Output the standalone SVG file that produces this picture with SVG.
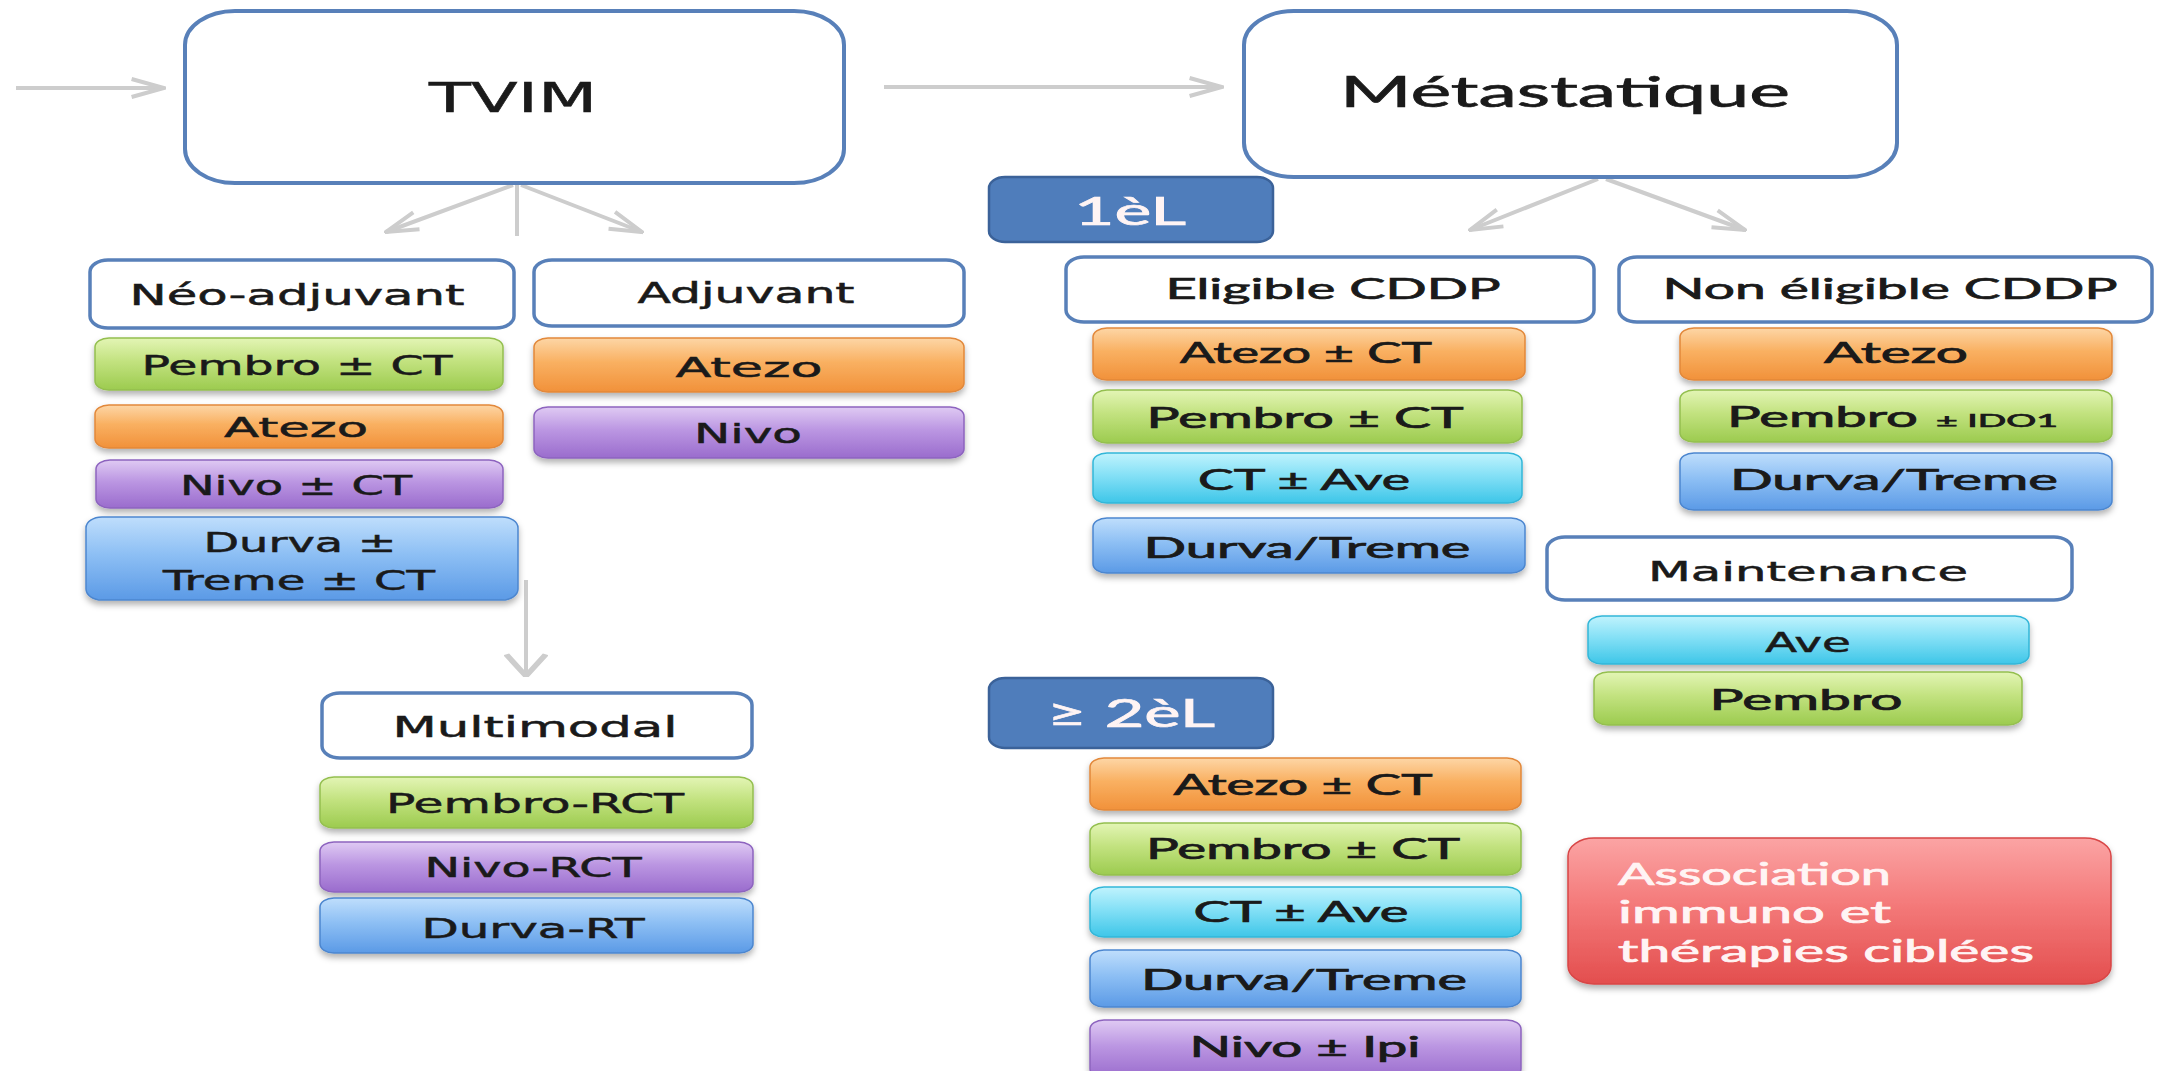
<svg xmlns="http://www.w3.org/2000/svg" width="2179" height="1071" viewBox="0 0 2179 1071">
<style>
.hdr{fill:#ffffff;stroke:#5880b9;stroke-width:3.5}
.big{fill:#ffffff;stroke:#5880b9;stroke-width:4}
.lbl{fill:#4f7dbb;stroke:#3b6299;stroke-width:2.5}
.box{stroke-width:1.5;filter:url(#sh)}
.green{fill:url(#gGreen);stroke:#94bf4f}
.orange{fill:url(#gOrange);stroke:#e2883a}
.purple{fill:url(#gPurple);stroke:#8d64bf}
.blue{fill:url(#gBlue);stroke:#4c86cf}
.cyan{fill:url(#gCyan);stroke:#33b6d8}
.red{fill:url(#gRed);stroke:#d84646}
.v{font-family:"DejaVu Sans",Verdana,sans-serif;fill:#1a1a1a;stroke:#1a1a1a;stroke-width:0.5;text-anchor:middle}
.c{font-family:Lato,"Liberation Sans",sans-serif;fill:#1a1a1a;stroke:#1a1a1a;stroke-width:0.7;text-anchor:middle}
.w{fill:#fff4f4;stroke:#fff4f4}
.conn{fill:none;stroke:#cdcdcd;stroke-width:4}
</style>
<defs>
<filter id="sh" x="-10%" y="-20%" width="120%" height="160%">
<feDropShadow dx="0" dy="4" stdDeviation="3" flood-color="#000" flood-opacity="0.3"/>
</filter>
<linearGradient id="gGreen" x1="0" y1="0" x2="0" y2="1"><stop offset="0" stop-color="#e3f5b5"/><stop offset="0.45" stop-color="#c2e27f"/><stop offset="1" stop-color="#9ccb4f"/></linearGradient>
<linearGradient id="gOrange" x1="0" y1="0" x2="0" y2="1"><stop offset="0" stop-color="#fdd6a6"/><stop offset="0.45" stop-color="#f9b061"/><stop offset="1" stop-color="#f1913a"/></linearGradient>
<linearGradient id="gPurple" x1="0" y1="0" x2="0" y2="1"><stop offset="0" stop-color="#dfcaf3"/><stop offset="0.45" stop-color="#bb96e2"/><stop offset="1" stop-color="#9a6ccd"/></linearGradient>
<linearGradient id="gBlue" x1="0" y1="0" x2="0" y2="1"><stop offset="0" stop-color="#bfdefc"/><stop offset="0.45" stop-color="#8dbff4"/><stop offset="1" stop-color="#5b9ae6"/></linearGradient>
<linearGradient id="gCyan" x1="0" y1="0" x2="0" y2="1"><stop offset="0" stop-color="#c0f3fd"/><stop offset="0.45" stop-color="#84e0f6"/><stop offset="1" stop-color="#3ec6e8"/></linearGradient>
<linearGradient id="gRed" x1="0" y1="0" x2="0" y2="1"><stop offset="0" stop-color="#fba4a4"/><stop offset="0.45" stop-color="#f47a7a"/><stop offset="1" stop-color="#e34e4e"/></linearGradient>
<marker id="chev" viewBox="0 0 20 20" refX="19" refY="10" markerWidth="36" markerHeight="36" markerUnits="userSpaceOnUse" orient="auto">
<path d="M1,5 L19,10 L1,15" fill="none" stroke="#cdcdcd" stroke-width="2.2"/>
</marker>
<marker id="chevV" viewBox="0 0 20 20" refX="19" refY="10" markerWidth="24" markerHeight="44" markerUnits="userSpaceOnUse" orient="auto" preserveAspectRatio="none">
<path d="M1,1 L19,10 L1,19" fill="none" stroke="#cdcdcd" stroke-width="3"/>
</marker>
</defs>
<rect width="2179" height="1071" fill="#ffffff"/>

<g id="connectors">
<path class="conn" d="M16,88 H164" marker-end="url(#chev)"/>
<path class="conn" d="M884,87 H1222" marker-end="url(#chev)"/>
<path class="conn" d="M513,185 L386,232" marker-end="url(#chev)"/>
<path class="conn" d="M517,185 V236"/>
<path class="conn" d="M521,185 L642,232" marker-end="url(#chev)"/>
<path class="conn" d="M1598,179 L1470,230" marker-end="url(#chev)"/>
<path class="conn" d="M1606,179 L1745,230" marker-end="url(#chev)"/>
<path class="conn" d="M526,580 V676" marker-end="url(#chevV)"/>
</g>

<g id="n-tvim"><rect class="big" x="185" y="11" width="659" height="172" rx="50" ry="34"/><text class="v" x="513" y="112" font-size="41" textLength="168" lengthAdjust="spacingAndGlyphs">TVIM</text></g>
<g id="n-meta"><rect class="big" x="1244" y="11" width="653" height="166" rx="50" ry="34"/><text class="c" x="1565" y="107" font-size="42" textLength="450" lengthAdjust="spacingAndGlyphs">Métastatique</text></g>

<g id="n-neo"><rect class="hdr" x="90" y="260" width="424" height="68" rx="18" ry="12"/><text class="v" x="297" y="305" font-size="28" textLength="335" lengthAdjust="spacingAndGlyphs">Néo-adjuvant</text></g>
<g id="n-adj"><rect class="hdr" x="534" y="260" width="430" height="66" rx="18" ry="12"/><text class="v" x="746" y="303" font-size="28" textLength="217" lengthAdjust="spacingAndGlyphs">Adjuvant</text></g>

<g id="n-neo-pembro"><rect class="box green" x="95" y="338" width="408" height="52" rx="14" ry="9"/><text class="v" x="297" y="375" font-size="27" textLength="311" lengthAdjust="spacingAndGlyphs">Pembro ± CT</text></g>
<g id="n-neo-atezo"><rect class="box orange" x="95" y="405" width="408" height="43" rx="14" ry="9"/><text class="v" x="296" y="437" font-size="27" textLength="144" lengthAdjust="spacingAndGlyphs">Atezo</text></g>
<g id="n-neo-nivo"><rect class="box purple" x="96" y="460" width="407" height="48" rx="14" ry="9"/><text class="v" x="296" y="495" font-size="27" textLength="232" lengthAdjust="spacingAndGlyphs">Nivo ± CT</text></g>
<g id="n-neo-durva"><rect class="box blue" x="86" y="517" width="432" height="83" rx="16" ry="11"/><text class="v" x="300" y="552" font-size="27" textLength="193" lengthAdjust="spacingAndGlyphs">Durva ±</text><text class="v" x="299" y="590" font-size="27" textLength="272" lengthAdjust="spacingAndGlyphs">Treme ± CT</text></g>

<g id="n-adj-atezo"><rect class="box orange" x="534" y="338" width="430" height="54" rx="14" ry="9"/><text class="v" x="749" y="377" font-size="27" textLength="147" lengthAdjust="spacingAndGlyphs">Atezo</text></g>
<g id="n-adj-nivo"><rect class="box purple" x="534" y="407" width="430" height="51" rx="14" ry="9"/><text class="v" x="748" y="443" font-size="27" textLength="108" lengthAdjust="spacingAndGlyphs">Nivo</text></g>

<g id="n-multi"><rect class="hdr" x="322" y="693" width="430" height="65" rx="18" ry="12"/><text class="v" x="535" y="737" font-size="29" textLength="285" lengthAdjust="spacingAndGlyphs">Multimodal</text></g>
<g id="n-multi-pembro"><rect class="box green" x="320" y="777" width="433" height="51" rx="14" ry="9"/><text class="v" x="535" y="813" font-size="27" textLength="298" lengthAdjust="spacingAndGlyphs">Pembro-RCT</text></g>
<g id="n-multi-nivo"><rect class="box purple" x="320" y="842" width="433" height="50" rx="14" ry="9"/><text class="v" x="533" y="877" font-size="27" textLength="217" lengthAdjust="spacingAndGlyphs">Nivo-RCT</text></g>
<g id="n-multi-durva"><rect class="box blue" x="320" y="898" width="433" height="55" rx="14" ry="9"/><text class="v" x="533" y="938" font-size="27" textLength="223" lengthAdjust="spacingAndGlyphs">Durva-RT</text></g>

<g id="n-1l"><rect class="lbl" x="989" y="177" width="284" height="65" rx="16" ry="11"/><text class="c w" x="1130" y="225" font-size="38" textLength="112" lengthAdjust="spacingAndGlyphs">1èL</text></g>

<g id="n-elig"><rect class="hdr" x="1066" y="257" width="528" height="65" rx="18" ry="12"/><text class="c" x="1333" y="299" font-size="29" textLength="335" lengthAdjust="spacingAndGlyphs">Eligible CDDP</text></g>
<g id="n-nonelig"><rect class="hdr" x="1619" y="257" width="533" height="65" rx="18" ry="12"/><text class="c" x="1890" y="299" font-size="29" textLength="455" lengthAdjust="spacingAndGlyphs">Non éligible CDDP</text></g>

<g id="n-el-atezo"><rect class="box orange" x="1093" y="328" width="432" height="52" rx="14" ry="9"/><text class="c" x="1306" y="363" font-size="28" textLength="252" lengthAdjust="spacingAndGlyphs">Atezo ± CT</text></g>
<g id="n-el-pembro"><rect class="box green" x="1093" y="390" width="429" height="53" rx="14" ry="9"/><text class="c" x="1305" y="428" font-size="28" textLength="317" lengthAdjust="spacingAndGlyphs">Pembro ± CT</text></g>
<g id="n-el-ct"><rect class="box cyan" x="1093" y="453" width="429" height="50" rx="14" ry="9"/><text class="c" x="1304" y="490" font-size="28" textLength="212" lengthAdjust="spacingAndGlyphs">CT ± Ave</text></g>
<g id="n-el-durva"><rect class="box blue" x="1093" y="518" width="432" height="55" rx="14" ry="9"/><text class="c" x="1307" y="558" font-size="28" textLength="327" lengthAdjust="spacingAndGlyphs">Durva/Treme</text></g>

<g id="n-ne-atezo"><rect class="box orange" x="1680" y="328" width="432" height="52" rx="14" ry="9"/><text class="c" x="1896" y="363" font-size="28" textLength="144" lengthAdjust="spacingAndGlyphs">Atezo</text></g>
<g id="n-ne-pembro"><rect class="box green" x="1680" y="390" width="432" height="52" rx="14" ry="9"/><text class="c" x="1727" y="427" font-size="28" style="text-anchor:start" textLength="191" lengthAdjust="spacingAndGlyphs">Pembro</text><text class="c" x="1936" y="427" font-size="18" style="text-anchor:start" textLength="122" lengthAdjust="spacingAndGlyphs">± IDO1</text></g>
<g id="n-ne-durva"><rect class="box blue" x="1680" y="453" width="432" height="57" rx="14" ry="9"/><text class="c" x="1894" y="490" font-size="28" textLength="328" lengthAdjust="spacingAndGlyphs">Durva/Treme</text></g>

<g id="n-maint"><rect class="hdr" x="1547" y="537" width="525" height="63" rx="18" ry="12"/><text class="v" x="1808" y="581" font-size="27" textLength="320" lengthAdjust="spacingAndGlyphs">Maintenance</text></g>
<g id="n-maint-ave"><rect class="box cyan" x="1588" y="616" width="441" height="48" rx="14" ry="9"/><text class="v" x="1808" y="652" font-size="27" textLength="86" lengthAdjust="spacingAndGlyphs">Ave</text></g>
<g id="n-maint-pembro"><rect class="box green" x="1594" y="672" width="428" height="53" rx="14" ry="9"/><text class="c" x="1806" y="710" font-size="28" textLength="193" lengthAdjust="spacingAndGlyphs">Pembro</text></g>

<g id="n-2l"><rect class="lbl" x="989" y="678" width="284" height="70" rx="16" ry="11"/><text class="c w" x="1131" y="727" font-size="38" textLength="168" lengthAdjust="spacingAndGlyphs">≥ 2èL</text></g>

<g id="n-2l-atezo"><rect class="box orange" x="1090" y="758" width="431" height="52" rx="14" ry="9"/><text class="c" x="1303" y="795" font-size="28" textLength="259" lengthAdjust="spacingAndGlyphs">Atezo ± CT</text></g>
<g id="n-2l-pembro"><rect class="box green" x="1090" y="823" width="431" height="52" rx="14" ry="9"/><text class="c" x="1303" y="859" font-size="28" textLength="314" lengthAdjust="spacingAndGlyphs">Pembro ± CT</text></g>
<g id="n-2l-ct"><rect class="box cyan" x="1090" y="887" width="431" height="50" rx="14" ry="9"/><text class="c" x="1301" y="922" font-size="28" textLength="215" lengthAdjust="spacingAndGlyphs">CT ± Ave</text></g>
<g id="n-2l-durva"><rect class="box blue" x="1090" y="950" width="431" height="57" rx="14" ry="9"/><text class="c" x="1304" y="990" font-size="28" textLength="326" lengthAdjust="spacingAndGlyphs">Durva/Treme</text></g>
<g id="n-2l-nivo"><rect class="box purple" x="1090" y="1020" width="431" height="58" rx="14" ry="9"/><text class="c" x="1305" y="1057" font-size="28" textLength="231" lengthAdjust="spacingAndGlyphs">Nivo ± Ipi</text></g>

<g id="n-assoc"><rect class="box red" x="1568" y="838" width="543" height="146" rx="26" ry="18"/>
<text class="c w" x="1618" y="885" font-size="30" style="text-anchor:start" textLength="273" lengthAdjust="spacingAndGlyphs">Association</text>
<text class="c w" x="1618" y="923" font-size="30" style="text-anchor:start" textLength="273" lengthAdjust="spacingAndGlyphs">immuno  et</text>
<text class="c w" x="1618" y="962" font-size="30" style="text-anchor:start" textLength="416" lengthAdjust="spacingAndGlyphs">thérapies ciblées</text></g>
</svg>
